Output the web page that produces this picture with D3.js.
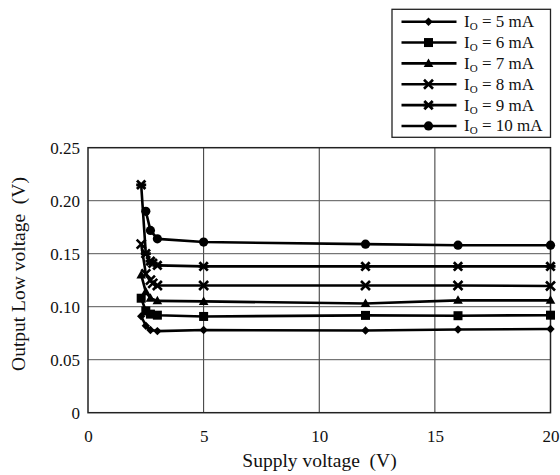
<!DOCTYPE html>
<html>
<head>
<meta charset="utf-8">
<script src="https://cdn.jsdelivr.net/npm/d3@7"></script>
<style>
  html, body { margin: 0; padding: 0; background: #fff; }
  svg { display: block; }
  text { font-family: "Liberation Serif", "Times New Roman", serif; fill: #111; }
</style>
</head>
<body>
<svg id="chart" width="560" height="475"></svg>
<script>
// ---- data ----
const seriesNames = ["5 mA", "6 mA", "7 mA", "8 mA", "9 mA", "10 mA"];
const markerTypes = ["diamond", "square", "triangle", "x", "asterisk", "circle"];
const io5mA_x  = [2.3, 2.5, 2.7, 3.0, 5, 12, 16, 20];
const io5mA_y  = [0.091, 0.082, 0.078, 0.077, 0.078, 0.0775, 0.0785, 0.079];
const io6mA_x  = [2.3, 2.5, 2.7, 3.0, 5, 12, 16, 20];
const io6mA_y  = [0.108, 0.096, 0.093, 0.092, 0.0908, 0.0918, 0.0915, 0.092];
const io7mA_x  = [2.3, 2.5, 2.7, 3.0, 5, 12, 16, 20];
const io7mA_y  = [0.130, 0.114, 0.108, 0.1055, 0.105, 0.103, 0.106, 0.106];
const io8mA_x  = [2.3, 2.5, 2.7, 2.8, 3.0, 5, 12, 16, 20];
const io8mA_y  = [0.159, 0.131, 0.125, 0.122, 0.120, 0.120, 0.120, 0.120, 0.1195];
const io9mA_x  = [2.3, 2.5, 2.7, 2.8, 3.0, 5, 12, 16, 20];
const io9mA_y  = [0.215, 0.150, 0.143, 0.141, 0.139, 0.138, 0.138, 0.138, 0.138];
const io10mA_x = [2.5, 2.7, 3.0, 5, 12, 16, 20];
const io10mA_y = [0.190, 0.172, 0.164, 0.161, 0.159, 0.158, 0.158];
const xTicks = [0, 5, 10, 15, 20];
const yTicks = [0, 0.05, 0.10, 0.15, 0.20, 0.25];
const xTitle = "Supply voltage  (V)";
const yTitle = "Output Low voltage  (V)";

const seriesX = [io5mA_x, io6mA_x, io7mA_x, io8mA_x, io9mA_x, io10mA_x];
const seriesY = [io5mA_y, io6mA_y, io7mA_y, io8mA_y, io9mA_y, io10mA_y];
const series = seriesNames.map((n, i) => ({
  name: n, marker: markerTypes[i],
  pts: seriesX[i].map((x, j) => ({x, y: seriesY[i][j]}))
}));

// ---- layout ----
const svg = d3.select("#chart");
const plot = {left: 88, right: 550.5, top: 147.7, bottom: 412.7};
const x = d3.scaleLinear().domain([0, 20]).range([plot.left, plot.right]);
const y = d3.scaleLinear().domain([0, 0.25]).range([plot.bottom, plot.top]);

// grid
const g = svg.append("g");
g.selectAll(".vg").data(xTicks.filter(t => t > 0 && t < 20)).enter().append("line")
  .attr("x1", d => x(d)).attr("x2", d => x(d))
  .attr("y1", plot.top).attr("y2", plot.bottom)
  .attr("stroke", "#333").attr("stroke-width", 1);
g.selectAll(".hg").data(yTicks.filter(t => t > 0 && t < 0.25)).enter().append("line")
  .attr("x1", plot.left).attr("x2", plot.right)
  .attr("y1", d => y(d)).attr("y2", d => y(d))
  .attr("stroke", "#555").attr("stroke-width", 1);

// frame
svg.append("rect")
  .attr("x", plot.left).attr("y", plot.top)
  .attr("width", plot.right - plot.left).attr("height", plot.bottom - plot.top)
  .attr("fill", "none").attr("stroke", "#222").attr("stroke-width", 1.5);

// axes (labels only, via d3 axis)
const xAxis = d3.axisBottom(x).tickValues(xTicks).tickSize(0).tickPadding(0)
  .tickFormat(d3.format("d"));
const xa = svg.append("g").attr("transform", `translate(0,${plot.bottom + 19})`).call(xAxis);
xa.select(".domain").remove();
xa.selectAll("text").attr("font-size", 17).attr("font-family", "Liberation Serif").attr("fill", "#111")
  .attr("dy", "0.32em").attr("y", 5);

const yAxis = d3.axisLeft(y).tickValues(yTicks).tickSize(0).tickPadding(0)
  .tickFormat(d => d === 0 ? "0" : d3.format(".2f")(d));
const ya = svg.append("g").attr("transform", `translate(${plot.left - 8},0)`).call(yAxis);
ya.select(".domain").remove();
ya.selectAll("text").attr("font-size", 17).attr("font-family", "Liberation Serif").attr("fill", "#111");

svg.append("text").attr("x", 319.5).attr("y", 467)
  .attr("text-anchor", "middle").style("white-space", "pre")
  .attr("font-size", 19.5).text(xTitle);
svg.append("text").attr("transform", `translate(25,274) rotate(-90)`)
  .attr("text-anchor", "middle").style("white-space", "pre")
  .attr("font-size", 19.5).text(yTitle);

// markers
function drawMarker(sel, type, cx, cy) {
  const k = sel.append("g").attr("transform", `translate(${cx},${cy})`);
  if (type === "diamond") {
    k.append("path").attr("d", "M0,-4.2L4.2,0L0,4.2L-4.2,0Z").attr("fill", "#000");
  } else if (type === "square") {
    k.append("rect").attr("x", -4.5).attr("y", -4.5).attr("width", 9).attr("height", 9).attr("fill", "#000");
  } else if (type === "triangle") {
    k.append("path").attr("d", "M0,-5L4.8,3.5L-4.8,3.5Z").attr("fill", "#000");
  } else if (type === "x") {
    k.append("path").attr("d", "M-4.5,-4.5L4.5,4.5M-4.5,4.5L4.5,-4.5")
      .attr("stroke", "#000").attr("stroke-width", 2.6).attr("fill", "none");
  } else if (type === "asterisk") {
    k.append("path").attr("d", "M-4.2,-4.2L4.2,4.2M-4.2,4.2L4.2,-4.2M-5,0L5,0")
      .attr("stroke", "#000").attr("stroke-width", 2.8).attr("fill", "none");
  } else if (type === "circle") {
    k.append("circle").attr("r", 4.6).attr("fill", "#000");
  }
}

const line = d3.line().x(d => x(d.x)).y(d => y(d.y));
const sg = svg.append("g");
series.forEach(s => {
  sg.append("path").datum(s.pts).attr("d", line)
    .attr("fill", "none").attr("stroke", "#000").attr("stroke-width", 2.6)
    .attr("stroke-linejoin", "round");
});
series.forEach(s => {
  s.pts.forEach(p => drawMarker(sg, s.marker, x(p.x), y(p.y)));
});

// legend
const lg = svg.append("g");
lg.append("rect").attr("x", 392).attr("y", 9.3).attr("width", 158.5).attr("height", 128)
  .attr("fill", "#fff").attr("stroke", "#222").attr("stroke-width", 1.3);
series.forEach((s, i) => {
  const ly = 21.7 + i * 20.85;
  lg.append("line").attr("x1", 401.5).attr("x2", 456.5).attr("y1", ly).attr("y2", ly)
    .attr("stroke", "#000").attr("stroke-width", 2.6);
  drawMarker(lg, s.marker, 428.5, ly);
  const t = lg.append("text").attr("x", 464).attr("y", ly + 5.5).attr("font-size", 17)
    .style("white-space", "pre");
  t.append("tspan").text("I");
  t.append("tspan").attr("font-size", 11).attr("dy", 3).text("O");
  t.append("tspan").attr("dy", -3).text(" = " + s.name);
});
</script>
</body>
</html>
